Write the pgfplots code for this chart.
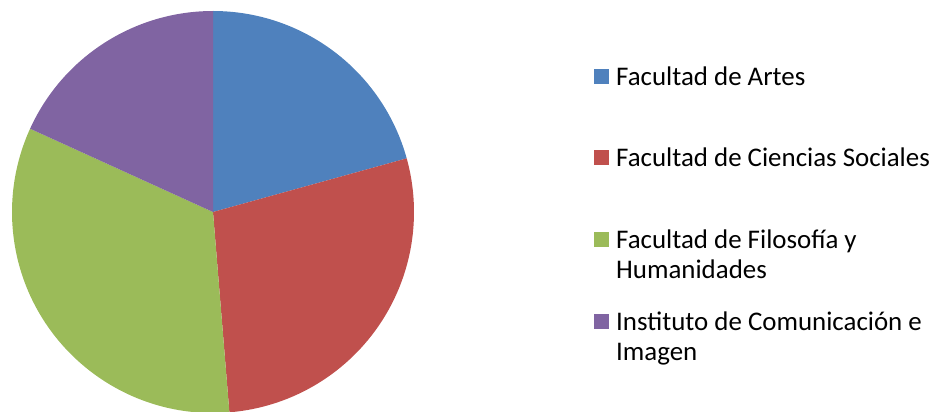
\documentclass[border=0pt]{standalone}
\usepackage{fontspec}
\setmainfont{Carlito}
\usepackage{pgfplots}
\usepackage{pgfplotstable}
\pgfplotsset{compat=1.18}
\definecolor{pie0}{HTML}{4F81BD}
\definecolor{pie1}{HTML}{C0504D}
\definecolor{pie2}{HTML}{9BBB59}
\definecolor{pie3}{HTML}{8064A2}

% share of each faculty (percent), clockwise from 12 o'clock
\pgfplotstableread{
idx value
0 20.7
1 28.0
2 33.1
3 18.2
}\piedata

\begin{document}
\begin{tikzpicture}[x=1pt,y=1pt]
\path[use as bounding box] (0,0) rectangle (935,412);
\def\cum{0}
\begin{axis}[at={(12pt,-1pt)},anchor=south west,scale only axis,
  width=402pt,height=402pt,xmin=-1,xmax=1,ymin=-1,ymax=1,hide axis,clip=false]
\pgfplotsforeachungrouped \i in {0,...,3}{%
  \pgfplotstablegetelem{\i}{value}\of\piedata
  \pgfmathsetmacro\a{90-3.6*\cum}%
  \pgfmathsetmacro\cum{\cum+\pgfplotsretval}%
  \pgfmathsetmacro\b{90-3.6*\cum}%
  \edef\temp{\noexpand\fill[pie\i] (axis cs:0,0) -- (axis cs:{cos(\a)},{sin(\a)})
    arc[start angle=\a,end angle=\b,radius=201pt] -- cycle;}%
  \temp
}
\end{axis}
% legend
\foreach \c/\y in {pie0/335,pie1/254,pie2/172,pie3/90}
  \fill[\c] (594,\y-7.5) rectangle (609,\y+7.5);
\foreach \t/\y in {Facultad de Artes/326.5,Facultad de Ciencias Sociales/245.5,
  Facultad de Filosofía y/163.5,Humanidades/133.5,
  Instituto de Comunicación e/81.5,Imagen/51.5}
  \node[anchor=base west,inner sep=0pt,font=\fontsize{26.9}{30}\selectfont] at (616,\y) {\t};
\end{tikzpicture}
\end{document}
